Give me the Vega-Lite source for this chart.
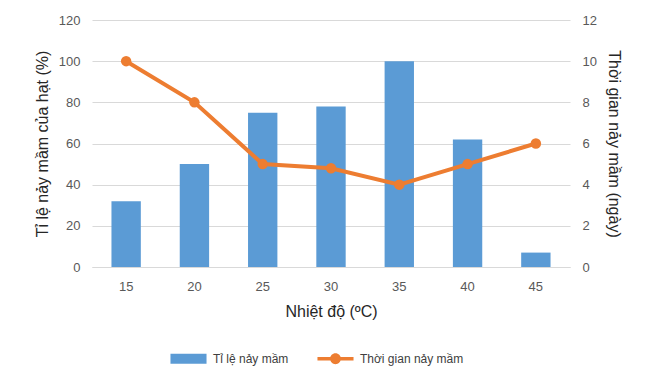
{
  "$schema": "https://vega.github.io/schema/vega-lite/v6.json",
  "width": 478,
  "height": 247,
  "autosize": {"type": "none"},
  "padding": {"left": 92, "top": 20, "right": 94, "bottom": 112},
  "background": "white",
  "config": {"view": {"stroke": null}, "font": "Liberation Sans"},
  "data": {"values": [
    {"temp": "15", "rate": 32, "days": 10},
    {"temp": "20", "rate": 50, "days": 8},
    {"temp": "25", "rate": 75, "days": 5},
    {"temp": "30", "rate": 78, "days": 4.8},
    {"temp": "35", "rate": 100, "days": 4},
    {"temp": "40", "rate": 62, "days": 5},
    {"temp": "45", "rate": 7, "days": 6}
  ]},
  "encoding": {
    "x": {
      "field": "temp", "type": "ordinal", "sort": null,
      "scale": {"paddingInner": 0.57, "paddingOuter": 0.285},
      "axis": {
        "title": "Nhiệt độ (ºC)", "labelAngle": 0, "ticks": false,
        "domainColor": "#d9d9d9", "labelColor": "#595959", "labelFontSize": 13,
        "labelPadding": 13, "titleFontSize": 16, "titleFontWeight": "normal",
        "titleColor": "#262626", "titlePadding": 10
      }
    }
  },
  "layer": [
    {
      "mark": {"type": "bar"},
      "encoding": {
        "y": {
          "field": "rate", "type": "quantitative",
          "scale": {"domain": [0, 120]},
          "axis": {
            "title": "Tỉ lệ nảy mầm của hạt (%)", "values": [0, 20, 40, 60, 80, 100, 120],
            "domain": false, "ticks": false, "grid": true, "gridColor": "#d9d9d9",
            "labelColor": "#595959", "labelFontSize": 13, "labelPadding": 12,
            "titleFontSize": 16, "titleFontWeight": "normal", "titleColor": "#262626",
            "titlePadding": 8
          }
        },
        "color": {
          "datum": "Tỉ lệ nảy mầm", "type": "nominal",
          "scale": {"domain": ["Tỉ lệ nảy mầm", "Thời gian nảy mầm"], "range": ["#5B9BD5", "#ED7D31"]},
          "legend": {
            "orient": "none", "legendX": 78, "legendY": 320, "direction": "horizontal",
            "title": null, "symbolSize": 1300, "labelFontSize": 12, "labelColor": "#404040",
            "columnPadding": 28, "symbolStrokeWidth": 0, "labelOffset": 6,
            "encode": {
              "symbols": {
                "update": {
                  "shape": {"signal": "datum.value === 'Tỉ lệ nảy mầm' ? 'M-1,-0.28H1V0.28H-1Z' : 'M-1,-0.1H1V0.1H-1Z M0.3,0A0.3,0.3 0 1 1 -0.3,0A0.3,0.3 0 1 1 0.3,0Z'"},
                  "fill": {"signal": "datum.value === 'Tỉ lệ nảy mầm' ? '#5B9BD5' : '#ED7D31'"},
                  "opacity": {"value": 1},
                  "fillOpacity": {"value": 1},
                  "strokeWidth": {"value": 0}
                }
              }
            }
          }
        }
      }
    },
    {
      "mark": {"type": "line", "strokeWidth": 4, "point": {"filled": true, "size": 110}},
      "encoding": {
        "y": {
          "field": "days", "type": "quantitative",
          "scale": {"domain": [0, 12]},
          "axis": {
            "orient": "right", "title": "Thời gian nảy mầm (ngày)", "values": [0, 2, 4, 6, 8, 10, 12],
            "domain": false, "ticks": false, "grid": false,
            "labelColor": "#595959", "labelFontSize": 13, "labelPadding": 12,
            "titleFontSize": 16, "titleFontWeight": "normal", "titleColor": "#262626",
            "titlePadding": 9
          }
        },
        "color": {"datum": "Thời gian nảy mầm", "type": "nominal"}
      }
    }
  ],
  "resolve": {"scale": {"y": "independent"}}
}
